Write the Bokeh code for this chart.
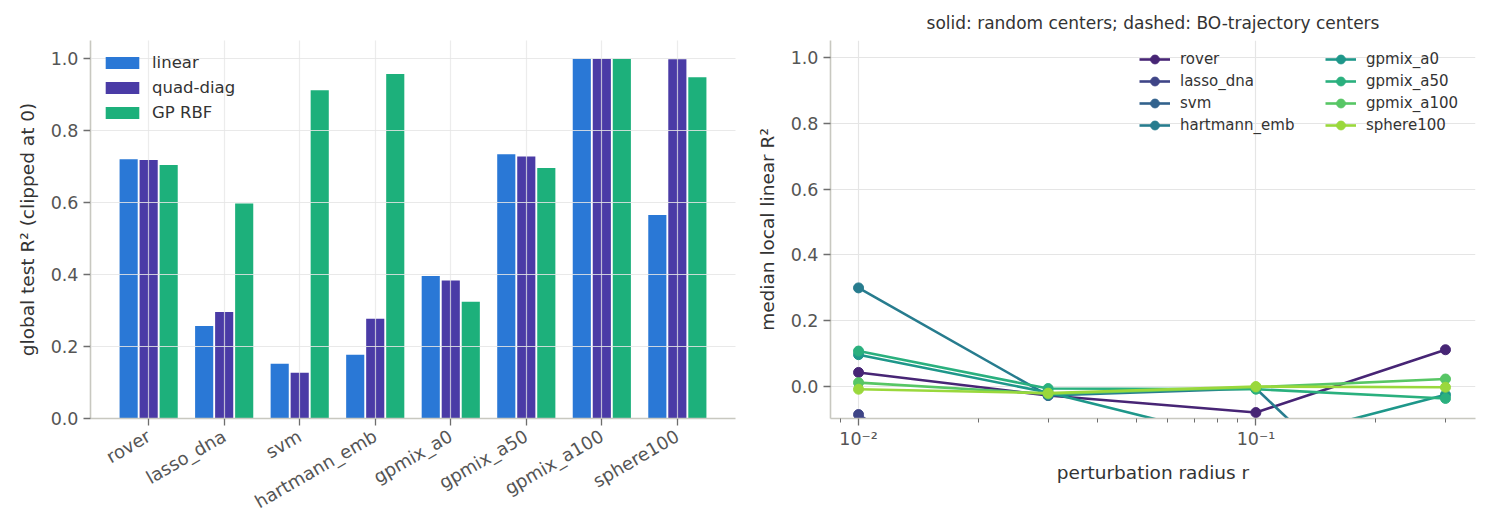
import math
from bokeh.core.properties import value
from bokeh.embed import file_html
from bokeh.layouts import row
from bokeh.models import (ColumnDataSource, FactorRange, Range1d, Legend, LegendItem,
                          FixedTicker, CustomJSTickFormatter, PrintfTickFormatter)
from bokeh.palettes import Viridis256
from bokeh.plotting import figure
from bokeh.resources import INLINE
from bokeh.transform import dodge

# ---------------- data ----------------
benchmarks = ["rover", "lasso_dna", "svm", "hartmann_emb", "gpmix_a0",
              "gpmix_a50", "gpmix_a100", "sphere100"]
global_r2_linear = [0.720, 0.257, 0.152, 0.177, 0.396, 0.734, 0.999, 0.565]
global_r2_quad_diag = [0.718, 0.296, 0.127, 0.277, 0.383, 0.728, 0.999, 0.998]
global_r2_gp_rbf = [0.704, 0.597, 0.912, 0.957, 0.324, 0.696, 0.999, 0.948]
model_names = ["linear", "quad-diag", "GP RBF"]

radii = [0.01, 0.03, 0.1, 0.3]
local_rover = [0.043, -0.027, -0.079, 0.112]
local_lasso_dna = [-0.085, -0.46, -0.52, -0.41]
local_svm = [-0.31, -0.37, -0.44, -0.29]
local_hartmann_emb = [0.300, -0.027, -0.006, -0.55]
local_gpmix_a0 = [0.097, -0.018, -0.175, -0.025]
local_gpmix_a50 = [0.108, -0.006, -0.008, -0.036]
local_gpmix_a100 = [0.012, -0.022, -0.002, 0.023]
local_sphere100 = [-0.008, -0.020, 0.000, -0.002]
local_series = [local_rover, local_lasso_dna, local_svm, local_hartmann_emb,
                local_gpmix_a0, local_gpmix_a50, local_gpmix_a100, local_sphere100]

# ---------------- style ----------------
FONT = "DejaVu Sans"
BAR_COLORS = ["#2a78d6", "#4a3ba6", "#1db07b"]
AXIS_LINE = "#c8c8c0"
TICK_COLOR = "#6e6e6e"
TICK_LABEL = "#555555"
LABEL = "#333333"
GRID = "#e5e5e5"
line_colors = [Viridis256[int(round((0.1 + i * 0.75 / 7) * 255))] for i in range(8)]


def style_axes(p):
    for ax in (p.xaxis[0], p.yaxis[0]):
        ax.axis_line_color = AXIS_LINE
        ax.axis_line_width = 1.6
        ax.major_tick_line_color = TICK_COLOR
        ax.major_tick_line_width = 1.3
        ax.major_tick_out = 7
        ax.major_tick_in = 0
        ax.minor_tick_line_color = TICK_COLOR
        ax.minor_tick_out = 4
        ax.minor_tick_in = 0
        ax.major_label_text_font = FONT
        ax.major_label_text_color = TICK_LABEL
        ax.major_label_text_font_size = "17.5px"
        ax.axis_label_text_font = FONT
        ax.axis_label_text_font_style = "normal"
        ax.axis_label_text_color = LABEL
        ax.axis_label_text_font_size = "18.5px"
        ax.major_label_standoff = 5
    p.outline_line_color = None
    p.xgrid.grid_line_color = GRID
    p.ygrid.grid_line_color = GRID
    p.xgrid.grid_line_width = 1.2
    p.ygrid.grid_line_width = 1.2


# ---------------- left: global R2 bars ----------------
src = ColumnDataSource(dict(bench=benchmarks, lin=global_r2_linear,
                            quad=global_r2_quad_diag, gp=global_r2_gp_rbf))

p1 = figure(width=752, height=527, output_backend="svg", toolbar_location=None,
            x_range=FactorRange(*benchmarks, range_padding=0.27,
                                range_padding_units="absolute"),
            y_range=Range1d(0, 1.05),
            min_border_left=90, min_border_right=17, min_border_top=40,
            min_border_bottom=109)
cols = ["lin", "quad", "gp"]
offsets = [-0.265, 0.0, 0.265]
bars = []
for c, off, colr in zip(cols, offsets, BAR_COLORS):
    r = p1.vbar(x=dodge("bench", off, range=p1.x_range), top=c, width=0.24,
                source=src, fill_color=colr, line_color=None)
    bars.append(r)

style_axes(p1)
p1.yaxis.ticker = FixedTicker(ticks=[0.0, 0.2, 0.4, 0.6, 0.8, 1.0])
p1.yaxis.formatter = PrintfTickFormatter(format="%.1f")
p1.yaxis.axis_label = "global test R\u00b2 (clipped at 0)"
p1.yaxis.axis_label_standoff = 10
p1.xaxis.major_label_orientation = math.pi / 6
p1.xaxis.major_label_text_font_size = "18px"
p1.xaxis.major_label_standoff = 9
p1.xgrid.level = "guide"
p1.ygrid.level = "guide"
p1.xgrid.grid_line_alpha = 0.75
p1.ygrid.grid_line_alpha = 0.85

leg1 = Legend(items=[LegendItem(label=n, renderers=[b]) for n, b in zip(model_names, bars)],
              location=(3, 288), margin=0, padding=8,
              glyph_width=42, glyph_height=15, label_height=20, spacing=5,
              label_standoff=9, label_text_font=FONT, label_text_font_size="16.5px",
              label_text_color=LABEL, background_fill_alpha=0, border_line_alpha=0)
p1.add_layout(leg1)

# ---------------- right: local R2 vs radius ----------------
p2 = figure(width=729, height=527, output_backend="svg", toolbar_location=None,
            x_axis_type="log", x_range=Range1d(0.0085, 0.357),
            y_range=Range1d(-0.097, 1.052),
            min_border_left=78, min_border_right=6, min_border_top=40,
            min_border_bottom=109)
renderers = []
for name, vals, colr in zip(benchmarks, local_series, line_colors):
    s = ColumnDataSource(dict(r=radii, v=vals))
    ln = p2.line("r", "v", source=s, line_color=colr, line_width=2.6)
    sc = p2.scatter("r", "v", source=s, size=10, fill_color=colr, line_color=colr)
    renderers.append((name, [ln, sc]))

style_axes(p2)
p2.xaxis.ticker = FixedTicker(ticks=[0.01, 0.1],
                              minor_ticks=[0.009, 0.02, 0.03, 0.04, 0.05, 0.06, 0.07,
                                           0.08, 0.09, 0.2, 0.3])
p2.xaxis.formatter = CustomJSTickFormatter(code="""
const sup = {'-': '\u207b', '0': '\u2070', '1': '\u00b9', '2': '\u00b2', '3': '\u00b3',
             '4': '\u2074', '5': '\u2075', '6': '\u2076', '7': '\u2077', '8': '\u2078', '9': '\u2079'};
const e = Math.round(Math.log10(tick));
return '10' + String(e).split('').map(c => sup[c]).join('');
""")
p2.xaxis.major_label_standoff = 3
p2.xaxis.axis_label = "perturbation radius r"
p2.xaxis.axis_label_standoff = 10
p2.xgrid.ticker = FixedTicker(ticks=[0.01, 0.1])
p2.yaxis.ticker = FixedTicker(ticks=[0.0, 0.2, 0.4, 0.6, 0.8, 1.0])
p2.yaxis.formatter = PrintfTickFormatter(format="%.1f")
p2.yaxis.axis_label = "median local linear R\u00b2"
p2.yaxis.axis_label_standoff = 10

p2.title.text = "solid: random centers; dashed: BO-trajectory centers"
p2.title.align = "center"
p2.title.text_font = FONT
p2.title.text_font_style = "normal"
p2.title.text_font_size = "17px"
p2.title.text_color = LABEL
p2.title.standoff = 16

leg_kw = dict(margin=0, padding=8, glyph_width=31, glyph_height=22, label_height=18,
              spacing=0, label_standoff=10, label_text_font=FONT,
              label_text_font_size="15px", label_text_color=LABEL,
              background_fill_alpha=0, border_line_alpha=0)
leg2a = Legend(items=[LegendItem(label=n, renderers=r) for n, r in renderers[:4]],
               location=(301, 274), **leg_kw)
leg2b = Legend(items=[LegendItem(label=n, renderers=r) for n, r in renderers[4:]],
               location=(487, 274), **leg_kw)
p2.add_layout(leg2a)
p2.add_layout(leg2b)

layout = row(p1, p2)
open("out.html", "w").write(file_html(layout, INLINE))
